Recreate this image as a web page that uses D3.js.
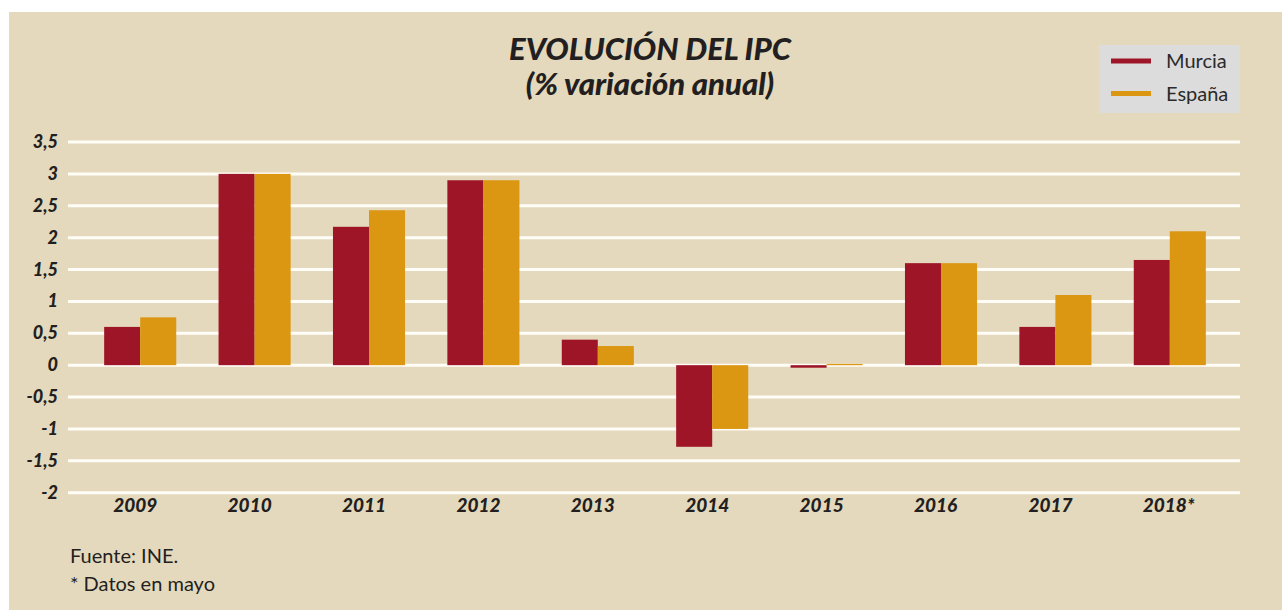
<!DOCTYPE html>
<html>
<head>
<meta charset="utf-8">
<script src="https://cdn.jsdelivr.net/npm/d3@7"></script>
<style>
  body { margin: 0; background: #fff; }
  svg { display: block; }
  text { font-family: "Lato", "DejaVu Sans", sans-serif; }
</style>
</head>
<body>
<div id="chart"></div>
<script>
const years = ["2009", "2010", "2011", "2012", "2013", "2014", "2015", "2016", "2017", "2018*"];
const seriesNames = ["Murcia", "España"];
const murcia = [0.6, 3.0, 2.17, 2.9, 0.4, -1.28, -0.04, 1.6, 0.6, 1.65];
const espana = [0.75, 3.0, 2.43, 2.9, 0.3, -1.0, 0.02, 1.6, 1.1, 2.1];
const yTicks = [3.5, 3, 2.5, 2, 1.5, 1, 0.5, 0, -0.5, -1, -1.5, -2];
const colors = ["#9e1528", "#db9612"];

const W = 1282, H = 610;

const svg = d3.select("#chart")
    .append("svg")
    .attr("width", W)
    .attr("height", H);

// beige panel
svg.append("rect")
    .attr("x", 9).attr("y", 12)
    .attr("width", W - 9).attr("height", H - 12)
    .attr("fill", "#e4d9bd");

const data = years.map((y, i) => ({ year: y, values: [murcia[i], espana[i]] }));

const x0 = d3.scaleBand()
    .domain(years)
    .range([83, 1227])
    .paddingInner(0.37)
    .paddingOuter(0.185);

const x1 = d3.scaleBand()
    .domain([0, 1])
    .range([0, x0.bandwidth()]);

const y = d3.scaleLinear()
    .domain([-2, 3.5])
    .range([492.7, 142]);

// gridlines
svg.append("g")
    .selectAll("line")
    .data(yTicks)
    .join("line")
    .attr("x1", 68)
    .attr("x2", 1240)
    .attr("y1", d => y(d))
    .attr("y2", d => y(d))
    .attr("stroke", "#fffdf8")
    .attr("stroke-width", 3);

// y labels
svg.append("g")
    .selectAll("text")
    .data(yTicks)
    .join("text")
    .attr("x", 58)
    .attr("y", d => y(d) + 6)
    .attr("text-anchor", "end")
    .attr("font-size", 18)
    .attr("font-weight", 900)
    .attr("font-style", "italic")
    .attr("fill", "#231f20")
    .text(d => String(d).replace(".", ","));

// bars
const groups = svg.append("g")
    .selectAll("g")
    .data(data)
    .join("g")
    .attr("transform", d => `translate(${x0(d.year)},0)`);

groups.selectAll("rect")
    .data(d => d.values.map((v, i) => ({ v, i })))
    .join("rect")
    .attr("x", d => x1(d.i))
    .attr("width", x1.bandwidth())
    .attr("y", d => y(Math.max(0, d.v)))
    .attr("height", d => Math.abs(y(d.v) - y(0)))
    .attr("fill", d => colors[d.i]);

// x labels (digits start slightly left of group centre; asterisk trails)
svg.append("g")
    .selectAll("text")
    .data(years)
    .join("text")
    .attr("x", d => x0(d) + x0.bandwidth() / 2 - 27)
    .attr("y", 512)
    .attr("text-anchor", "start")
    .attr("font-size", 19)
    .attr("font-weight", 900)
    .attr("font-style", "italic")
    .attr("fill", "#231f20")
    .text(d => d);

// title
svg.append("text")
    .attr("x", 650).attr("y", 60)
    .attr("text-anchor", "middle")
    .attr("font-size", 31)
    .attr("font-weight", 900)
    .attr("font-style", "italic")
    .attr("fill", "#231f20")
    .text("EVOLUCIÓN DEL IPC");

svg.append("text")
    .attr("x", 650).attr("y", 95)
    .attr("text-anchor", "middle")
    .attr("font-size", 31)
    .attr("font-weight", 900)
    .attr("font-style", "italic")
    .attr("fill", "#231f20")
    .text("(% variación anual)");

// legend
const legend = svg.append("g").attr("transform", "translate(1099,45)");
legend.append("rect")
    .attr("width", 141).attr("height", 68)
    .attr("fill", "#dcdcdc");

seriesNames.forEach((name, i) => {
    legend.append("line")
        .attr("x1", 12).attr("x2", 52)
        .attr("y1", 16 + i * 32.5).attr("y2", 16 + i * 32.5)
        .attr("stroke", colors[i])
        .attr("stroke-width", 5);
    legend.append("text")
        .attr("x", 67).attr("y", 23 + i * 32.5)
        .attr("font-size", 20)
        .attr("fill", "#2a2a2a")
        .text(name);
});

// notes
svg.append("text")
    .attr("x", 70).attr("y", 563)
    .attr("font-size", 20)
    .attr("fill", "#231f20")
    .text("Fuente: INE.");

svg.append("text")
    .attr("x", 70).attr("y", 591)
    .attr("font-size", 20)
    .attr("fill", "#231f20")
    .text("* Datos en mayo");
</script>
</body>
</html>
